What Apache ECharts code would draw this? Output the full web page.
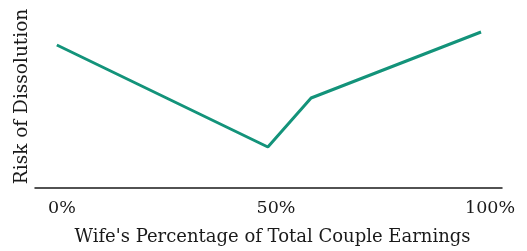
<!DOCTYPE html>
<html>
<head>
<meta charset="utf-8">
<script src="https://cdn.jsdelivr.net/npm/echarts@6/dist/echarts.min.js"></script>
<style>
  html, body { margin: 0; padding: 0; background: #fff; }
  #chart { width: 527px; height: 251px; }
</style>
</head>
<body>
<div id="chart"></div>
<script>
// ---- 数据 ----
const earningsShare = [-1.2, 48.1, 58.2, 97.9]   // 妻子收入占比 (%)
const dissolutionRisk = [143, 41, 90, 156]       // 相对风险（无刻度）
const tickValues = [0, 50, 100]

const chart = echarts.init(document.getElementById('chart'))
const serif = 'DejaVu Serif'

chart.setOption({
  animation: false,
  grid: { left: 35, right: 25, top: 5, bottom: 63 },
  xAxis: {
    type: 'value',
    min: -6.3,
    max: 102.8,
    name: "Wife's Percentage of Total Couple Earnings",
    nameLocation: 'middle',
    nameGap: 40,
    nameTextStyle: { fontFamily: serif, fontSize: 18, color: '#1a1a1a', padding: [0, 0, 0, 8] },
    axisLine: { show: true, lineStyle: { color: '#1a1a1a', width: 1.5 } },
    axisTick: { show: false },
    splitLine: { show: false },
    axisLabel: {
      customValues: tickValues,
      formatter: v => v + '%',
      margin: 11,
      fontFamily: serif,
      fontSize: 17.5,
      color: '#1a1a1a'
    }
  },
  yAxis: {
    type: 'value',
    min: 0,
    max: 183,
    name: 'Risk of Dissolution',
    nameLocation: 'middle',
    nameGap: 3,
    nameTextStyle: { fontFamily: serif, fontSize: 18.5, color: '#1a1a1a' },
    axisLine: { show: false },
    axisTick: { show: false },
    axisLabel: { show: false },
    splitLine: { show: false }
  },
  series: [{
    type: 'line',
    data: earningsShare.map((x, i) => [x, dissolutionRisk[i]]),
    showSymbol: false,
    lineStyle: { color: '#13937a', width: 3 }
  }]
})
</script>
</body>
</html>
